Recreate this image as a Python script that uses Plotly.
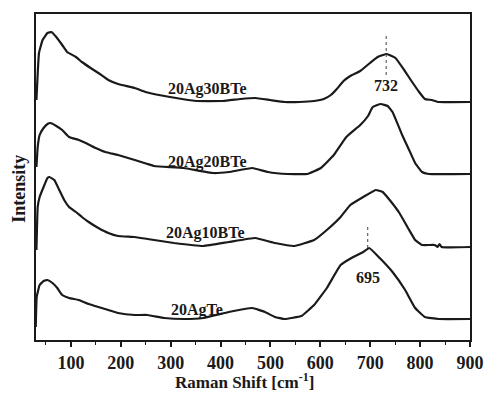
import plotly.graph_objects as go

# Raman shift (cm^-1) and intensity (arb. units, stacked offsets)
x_30 = [30.9, 36, 43.2, 53, 61, 70.7, 82.5, 92.4, 110, 122, 139.5, 155, 175, 194.5, 228, 249.5, 298.7, 351.7, 404.8, 440, 469.6, 499, 528.6, 558, 587.5, 607, 621, 633, 646.5, 660, 680, 699.5, 715, 733, 750.6, 768, 784, 798, 809.6, 823.5, 837, 900]
y_30 = [240, 287, 300, 307, 308, 303, 295, 288, 283, 278, 272, 267, 260, 256, 252, 248, 243, 239, 239, 241, 242, 240, 238, 238, 239, 241, 245, 251, 259, 264, 269, 277, 283, 286, 282, 270, 258, 248, 241, 240, 238, 238]

x_20 = [30.9, 33.4, 37.3, 45.2, 53, 59, 70.7, 82.5, 96.3, 116, 129.7, 149.4, 169, 194.5, 228, 253.5, 267, 326, 385, 416.6, 463.7, 495, 534.5, 573.8, 601, 627, 652, 680, 695.6, 705, 721, 735, 744.7, 764, 778, 790, 803.7, 817.4, 900]
y_20 = [173, 193, 205, 212, 216, 217, 214, 210, 203, 200, 197, 192, 188, 185, 180, 176, 174, 172, 167, 168, 172, 168, 166, 166, 172, 185, 203, 215, 224, 233, 236, 234, 228, 205, 190, 177, 168, 166, 166]

x_10 = [30.9, 33.4, 37.3, 45.2, 53, 57, 66.8, 76.6, 86.5, 96.3, 110, 122, 135.6, 155, 175, 194.5, 228, 253.5, 306.5, 365.5, 416.6, 469.6, 509, 548, 587.5, 613, 640.6, 660, 686, 711, 725, 739, 758.5, 778, 790, 803.7, 829, 835, 839, 843, 900]
y_10 = [90, 133, 143, 153, 162, 163, 160, 150, 140, 133, 128, 123, 118, 112, 107, 104, 103, 101, 97, 94, 98, 102, 97, 94, 100, 110, 123, 135, 143, 150, 148, 140, 127, 110, 100, 95, 95, 93, 96, 93, 93]

x_0 = [29.5, 31.4, 37.3, 45.2, 53, 63, 72.7, 82.5, 96.3, 116, 135.6, 155, 175, 194.5, 228, 253.5, 287, 326, 365.5, 416.6, 463.7, 489, 509, 528.6, 562, 587.5, 613, 640.6, 666, 686, 698, 719, 744.7, 770, 790, 809.6, 837, 900]
y_0 = [13, 43, 55, 59, 60, 57, 52, 45, 42, 40, 36, 33, 30, 27, 25, 25, 22, 21, 22, 28, 32, 28, 23, 21, 24, 35, 52, 75, 83, 88, 92, 82, 68, 50, 32, 23, 21, 21]

labels = ["20Ag30BTe", "20Ag20BTe", "20Ag10BTe", "20AgTe"]
label_x = [374, 374, 369, 352]
label_y = [251, 178, 107, 30]

peak_pos = [732, 695]
peak_line_y0 = [265, 92]
peak_line_y1 = [305, 113]
peak_text_y = [255, 63]

x_ticks = [100, 200, 300, 400, 500, 600, 700, 800, 900]

FONT = "Liberation Serif"
INK = "#1a1a1a"

fig = go.Figure()
for xs, ys in [(x_30, y_30), (x_20, y_20), (x_10, y_10), (x_0, y_0)]:
    fig.add_trace(go.Scatter(x=xs, y=ys, mode="lines",
                             line=dict(color=INK, width=2.2, shape="spline", smoothing=0.3),
                             showlegend=False, hoverinfo="skip"))

for xp, a, b in zip(peak_pos, peak_line_y0, peak_line_y1):
    fig.add_trace(go.Scatter(x=[xp, xp], y=[a, b], mode="lines",
                             line=dict(color="#444444", width=1, dash="dot"),
                             showlegend=False, hoverinfo="skip"))

for t, lx, ly in zip(labels, label_x, label_y):
    fig.add_annotation(x=lx, y=ly, text=t, showarrow=False,
                       font=dict(family=FONT, size=16, color=INK, weight="bold"))

for xp, ty in zip(peak_pos, peak_text_y):
    fig.add_annotation(x=xp, y=ty, text=str(xp), showarrow=False,
                       font=dict(family=FONT, size=16, color=INK, weight="bold"))

fig.add_annotation(xref="paper", yref="paper", x=0.481, y=-0.125,
                   xanchor="center", yanchor="middle",
                   text="Raman Shift [cm<sup>-1</sup>]", showarrow=False,
                   font=dict(family=FONT, size=17, color=INK, weight="bold"))
fig.add_annotation(xref="paper", yref="paper", x=-0.04, y=0.463, textangle=-90,
                   xanchor="center", yanchor="middle",
                   text="Intensity", showarrow=False,
                   font=dict(family=FONT, size=18, color=INK, weight="bold"))

fig.update_layout(
    width=496, height=394,
    margin=dict(l=36, r=17, t=14, b=54),
    paper_bgcolor="white", plot_bgcolor="white",
    xaxis=dict(range=[30, 900], tickvals=x_ticks, ticktext=[str(v) for v in x_ticks],
               ticks="outside", ticklen=5, tickwidth=1.5, tickcolor=INK,
               minor=dict(dtick=50, tick0=0, ticks="outside", ticklen=3, tickwidth=1.2, tickcolor=INK),
               showgrid=False, zeroline=False,
               showline=True, linecolor=INK, linewidth=2, mirror=True,
               tickfont=dict(family=FONT, size=18, color=INK, weight="bold")),
    yaxis=dict(range=[0, 326], showticklabels=False, ticks="",
               showgrid=False, zeroline=False,
               showline=True, linecolor=INK, linewidth=2, mirror=True),
)

fig.write_html("out.html")
